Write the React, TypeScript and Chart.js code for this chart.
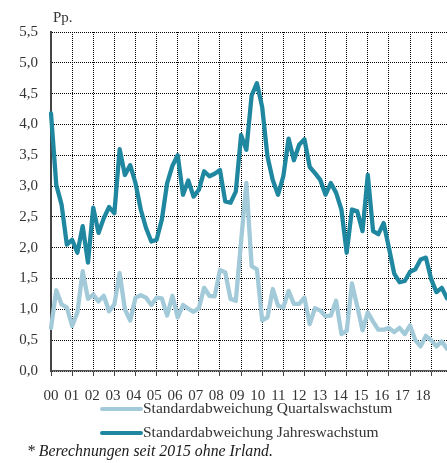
import React, { useEffect, useRef } from 'react';
import { Chart, registerables } from 'chart.js';

Chart.register(...registerables);

// ---- data ----
const years = ['00', '01', '02', '03', '04', '05', '06', '07', '08', '09', '10', '11', '12', '13', '14', '15', '16', '17', '18'];
const quarterNames = ['Q1', 'Q2', 'Q3', 'Q4'];

const quartalsLabel = 'Standardabweichung Quartalswachstum';
const jahresLabel = 'Standardabweichung Jahreswachstum';
const unitLabel = 'Pp.';
const footnote = '* Berechnungen seit 2015 ohne Irland.';

const quartalsValues = [
  0.70, 1.31, 1.08, 1.03, 0.73, 0.95, 1.62, 1.17,
  1.24, 1.13, 1.22, 0.97, 1.08, 1.59, 1.00, 0.82,
  1.19, 1.23, 1.19, 1.07, 1.19, 1.18, 0.90, 1.22,
  0.87, 1.07, 1.01, 0.96, 1.02, 1.35, 1.22, 1.21,
  1.64, 1.60, 1.17, 1.14, 2.10, 3.05, 1.70, 1.65,
  0.82, 0.87, 1.33, 1.06, 1.03, 1.30, 1.09, 1.09,
  1.19, 0.76, 1.02, 0.98, 0.89, 0.90, 1.14, 0.60,
  0.65, 1.42, 1.05, 0.66, 0.95, 0.80, 0.67, 0.67,
  0.70, 0.63, 0.70, 0.60, 0.74, 0.50, 0.40, 0.57,
  0.50, 0.40, 0.48, 0.36,
];

const jahresValues = [
  4.18, 3.02, 2.70, 2.05, 2.13, 1.92, 2.35, 1.76,
  2.65, 2.24, 2.48, 2.66, 2.56, 3.60, 3.18, 3.34,
  3.05, 2.62, 2.32, 2.10, 2.13, 2.46, 3.05, 3.33,
  3.50, 2.86, 3.09, 2.83, 2.94, 3.24, 3.16, 3.20,
  3.26, 2.75, 2.73, 2.91, 3.83, 3.59, 4.47, 4.67,
  4.28, 3.48, 3.10, 2.86, 3.16, 3.77, 3.42, 3.67,
  3.76, 3.31, 3.21, 3.10, 2.86, 3.05, 2.89, 2.62,
  1.92, 2.62, 2.59, 2.27, 3.18, 2.27, 2.22, 2.40,
  2.00, 1.58, 1.44, 1.46, 1.61, 1.65, 1.81, 1.84,
  1.49, 1.28, 1.35, 1.18,
];

const categories: string[] = [];
years.forEach((y) => quarterNames.forEach((q) => categories.push(y + q)));

const FONT = '"Liberation Serif", "Times New Roman", serif';
const DARK = '#1f88a0';
const LIGHT = '#a2cad9';
const TEXT = '#333333';

const textPlugin = {
  id: 'customTexts',
  afterDraw(chart: any) {
    const ctx = chart.ctx as CanvasRenderingContext2D;
    ctx.save();
    ctx.fillStyle = TEXT;
    ctx.textBaseline = 'middle';
    ctx.textAlign = 'left';
    ctx.font = `15px ${FONT}`;
    ctx.fillText(unitLabel, 53, 18);
    ctx.font = `15.5px ${FONT}`;
    chart.data.datasets.forEach((ds: any, i: number) => {
      const y = 409 + i * 24;
      ctx.strokeStyle = ds.borderColor;
      ctx.lineWidth = 4;
      ctx.lineCap = 'round';
      ctx.beginPath();
      ctx.moveTo(102, y);
      ctx.lineTo(141, y);
      ctx.stroke();
      ctx.fillText(ds.label, 143, y);
    });
    ctx.fillStyle = '#1a1a1a';
    ctx.font = `italic 15.8px ${FONT}`;
    ctx.fillText(footnote, 27, 452);
    ctx.restore();
  },
};

export default function App() {
  const ref = useRef<HTMLCanvasElement | null>(null);

  useEffect(() => {
    if (!ref.current) return;
    const chart = new Chart(ref.current, {
      type: 'line',
      data: {
        labels: categories,
        datasets: [
          {
            label: quartalsLabel,
            data: quartalsValues,
            borderColor: LIGHT,
            backgroundColor: LIGHT,
            borderWidth: 4.3,
            pointRadius: 0,
            tension: 0,
            borderJoinStyle: 'round',
            borderCapStyle: 'round',
          },
          {
            label: jahresLabel,
            data: jahresValues,
            borderColor: DARK,
            backgroundColor: DARK,
            borderWidth: 4.3,
            pointRadius: 0,
            tension: 0,
            borderJoinStyle: 'round',
            borderCapStyle: 'round',
          },
        ],
      },
      options: {
        responsive: false,
        animation: false,
        devicePixelRatio: 1,
        layout: { padding: { top: 32, left: 0, right: 0, bottom: 0 } },
        plugins: {
          legend: { display: false },
          tooltip: { enabled: false },
        },
        scales: {
          x: {
            type: 'category',
            position: 'bottom',
            weight: 0,
            offset: false,
            afterFit: (s: any) => { s.height = 5; },
            ticks: { display: false, autoSkip: false },
            grid: {
              color: (c: any) => (c.index % 4 === 0 ? '#000000' : 'rgba(0,0,0,0)'),
              tickColor: (c: any) => (c.index % 4 === 0 ? '#444444' : 'rgba(0,0,0,0)'),
              lineWidth: 1,
              tickLength: 5,
              tickWidth: 1,
              drawTicks: true,
            },
            border: { display: true, color: '#555555', width: 1.5, dash: [1, 1] },
          },
          xl: {
            type: 'linear',
            position: 'bottom',
            weight: 1,
            min: 0,
            max: 19.16,
            afterFit: (s: any) => { s.height = 87; },
            ticks: {
              stepSize: 1,
              autoSkip: false,
              includeBounds: false,
              maxRotation: 0,
              padding: 11,
              color: TEXT,
              font: { family: FONT, size: 15 },
              callback: (v: any) => years[v],
            },
            grid: { display: false, drawTicks: false },
            border: { display: false },
          },
          y: {
            min: 0,
            max: 5.5,
            afterFit: (s: any) => { s.width = 51; },
            ticks: {
              stepSize: 0.5,
              padding: 13,
              color: TEXT,
              font: { family: FONT, size: 15 },
              callback: (v: any) => Number(v).toFixed(1).replace('.', ','),
            },
            grid: { color: '#000000', lineWidth: 1, drawTicks: false },
            border: { display: true, color: '#444444', width: 2, dash: [1, 1] },
          },
        },
      } as any,
      plugins: [textPlugin],
    });
    return () => chart.destroy();
  }, []);

  return (
    <div style={{ position: 'absolute', left: 0, top: 0, width: 447, height: 463, background: '#fff' }}>
      <canvas ref={ref} width={447} height={463} />
    </div>
  );
}
